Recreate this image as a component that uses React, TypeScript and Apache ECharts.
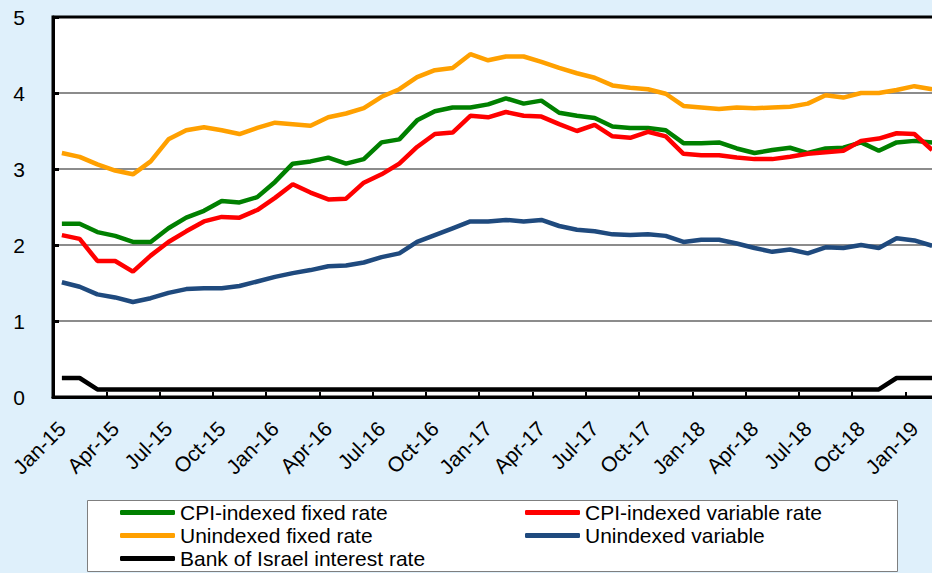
import React, { useEffect, useRef } from "react";
import * as echarts from "echarts";

const months: string[] = [
  "Jan-15", "Feb-15", "Mar-15", "Apr-15", "May-15", "Jun-15", "Jul-15", "Aug-15", "Sep-15", "Oct-15", "Nov-15", "Dec-15",
  "Jan-16", "Feb-16", "Mar-16", "Apr-16", "May-16", "Jun-16", "Jul-16", "Aug-16", "Sep-16", "Oct-16", "Nov-16", "Dec-16",
  "Jan-17", "Feb-17", "Mar-17", "Apr-17", "May-17", "Jun-17", "Jul-17", "Aug-17", "Sep-17", "Oct-17", "Nov-17", "Dec-17",
  "Jan-18", "Feb-18", "Mar-18", "Apr-18", "May-18", "Jun-18", "Jul-18", "Aug-18", "Sep-18", "Oct-18", "Nov-18", "Dec-18",
  "Jan-19", "Feb-19",
];

const cpiIndexedFixed: number[] = [
  2.28, 2.28, 2.17, 2.12, 2.04, 2.04, 2.22, 2.36, 2.45, 2.58, 2.56, 2.63,
  2.83, 3.07, 3.10, 3.15, 3.07, 3.13, 3.35, 3.39, 3.64, 3.76, 3.81, 3.81,
  3.85, 3.93, 3.86, 3.90, 3.74, 3.70, 3.67, 3.56, 3.54, 3.54, 3.51, 3.34,
  3.34, 3.35, 3.27, 3.21, 3.25, 3.28, 3.21, 3.27, 3.28, 3.35, 3.24, 3.35,
  3.37, 3.35,
];

const cpiIndexedVariable: number[] = [
  2.13, 2.08, 1.79, 1.79, 1.65, 1.86, 2.04, 2.18, 2.31, 2.37, 2.36, 2.46,
  2.62, 2.80, 2.69, 2.60, 2.61, 2.82, 2.93, 3.07, 3.29, 3.46, 3.48, 3.70,
  3.68, 3.75, 3.70, 3.69, 3.59, 3.50, 3.58, 3.43, 3.41, 3.49, 3.43, 3.20,
  3.18, 3.18, 3.15, 3.13, 3.13, 3.16, 3.20, 3.22, 3.24, 3.37, 3.40, 3.47,
  3.46, 3.25,
];

const unindexedFixed: number[] = [
  3.21, 3.16, 3.06, 2.98, 2.93, 3.10, 3.39, 3.51, 3.55, 3.51, 3.46, 3.54,
  3.61, 3.59, 3.57, 3.68, 3.73, 3.80, 3.95, 4.05, 4.21, 4.30, 4.33, 4.51,
  4.43, 4.48, 4.48, 4.41, 4.33, 4.26, 4.20, 4.10, 4.07, 4.05, 3.99, 3.83,
  3.81, 3.79, 3.81, 3.80, 3.81, 3.82, 3.86, 3.97, 3.94, 4.00, 4.00, 4.04,
  4.09, 4.05,
];

const unindexedVariable: number[] = [
  1.51, 1.45, 1.35, 1.31, 1.25, 1.30, 1.37, 1.42, 1.43, 1.43, 1.46, 1.52,
  1.58, 1.63, 1.67, 1.72, 1.73, 1.77, 1.84, 1.89, 2.04, 2.13, 2.22, 2.31,
  2.31, 2.33, 2.31, 2.33, 2.25, 2.20, 2.18, 2.14, 2.13, 2.14, 2.12, 2.04,
  2.07, 2.07, 2.02, 1.96, 1.91, 1.94, 1.89, 1.97, 1.96, 2.00, 1.96, 2.09,
  2.06, 1.99,
];

const bankOfIsraelRate: number[] = [
  0.25, 0.25, 0.1, 0.1, 0.1, 0.1, 0.1, 0.1, 0.1, 0.1, 0.1, 0.1,
  0.1, 0.1, 0.1, 0.1, 0.1, 0.1, 0.1, 0.1, 0.1, 0.1, 0.1, 0.1,
  0.1, 0.1, 0.1, 0.1, 0.1, 0.1, 0.1, 0.1, 0.1, 0.1, 0.1, 0.1,
  0.1, 0.1, 0.1, 0.1, 0.1, 0.1, 0.1, 0.1, 0.1, 0.1, 0.1, 0.25,
  0.25, 0.25,
];

const seriesNames = [
  "CPI-indexed fixed rate",
  "CPI-indexed variable rate",
  "Unindexed fixed rate",
  "Unindexed variable",
  "Bank of Israel interest rate",
];
const seriesColors = ["#008000", "#ff0000", "#ffa000", "#1f4a7e", "#000000"];
const seriesData = [cpiIndexedFixed, cpiIndexedVariable, unindexedFixed, unindexedVariable, bankOfIsraelRate];

const FONT = "'Liberation Sans', Arial, sans-serif";

const legendCommon = {
  orient: "vertical",
  top: 501,
  itemWidth: 55,
  itemHeight: 5,
  itemGap: 0,
  icon: "roundRect",
  padding: 0,
  textStyle: { fontSize: 21, color: "#000", fontFamily: FONT, lineHeight: 23 },
};

export default function App() {
  const ref = useRef<HTMLDivElement>(null);
  useEffect(() => {
    if (!ref.current) return;
    document.body.style.overflow = "hidden";
    const chart = echarts.init(ref.current, null, { renderer: "svg" });
    chart.setOption({
      animation: false,
      backgroundColor: "#dff0fb",
      textStyle: { fontFamily: FONT },
      grid: {
        left: 53,
        top: 17,
        right: 0,
        bottom: 176,
        show: true,
        backgroundColor: "#ffffff",
        borderColor: "#000000",
        borderWidth: 3,
      },
      xAxis: {
        type: "category",
        data: months,
        boundaryGap: true,
        axisLine: { show: true, lineStyle: { color: "#000", width: 3 } },
        axisTick: { show: true, inside: true, interval: 2, length: 5, lineStyle: { color: "#000", width: 2 } },
        axisLabel: {
          interval: 2,
          rotate: 45,
          margin: 28,
          fontSize: 21,
          color: "#000",
          fontFamily: FONT,
        },
        splitLine: { show: false },
      },
      yAxis: {
        type: "value",
        min: 0,
        max: 5,
        interval: 1,
        axisLine: { show: true, lineStyle: { color: "#000", width: 3 } },
        axisTick: { show: true, inside: true, length: 6, lineStyle: { color: "#000", width: 3 } },
        axisLabel: { margin: 28, fontSize: 21, color: "#000", fontFamily: FONT },
        splitLine: {
          show: true,
          lineStyle: { color: ["#000", "#8c8c8c", "#8c8c8c", "#8c8c8c", "#8c8c8c", "#000"], width: 2 },
        },
      },
      legend: [
        { ...legendCommon, data: [seriesNames[0], seriesNames[2], seriesNames[4]], left: 120 },
        { ...legendCommon, data: [seriesNames[1], seriesNames[3]], left: 525 },
      ],
      graphic: [
        {
          type: "rect",
          z: -1,
          shape: { x: 87.5, y: 500.5, width: 810, height: 71 },
          style: { fill: "#ffffff", stroke: "#7f7f7f", lineWidth: 1 },
        },
      ],
      series: seriesNames.map((name, i) => ({
        name,
        type: "line",
        data: seriesData[i],
        showSymbol: false,
        symbol: "none",
        color: seriesColors[i],
        lineStyle: { color: seriesColors[i], width: 4.5 },
        z: i === 4 ? 1 : 2 + i,
      })),
    });
    return () => chart.dispose();
  }, []);
  return (
    <div
      ref={ref}
      style={{ position: "fixed", left: 0, top: 0, width: 941, height: 573 }}
    />
  );
}
